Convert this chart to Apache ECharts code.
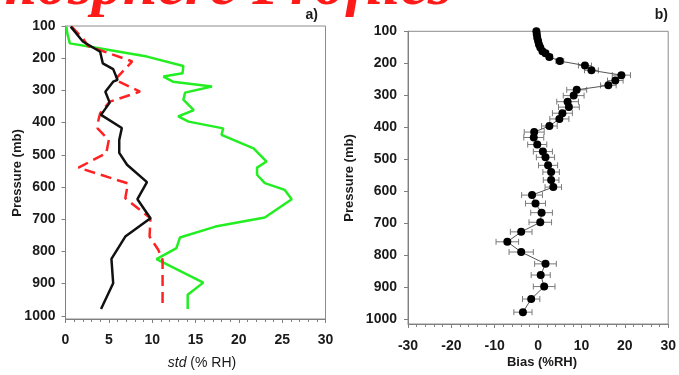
<!DOCTYPE html>
<html>
<head>
<meta charset="utf-8">
<script src="https://cdn.jsdelivr.net/npm/echarts@6/dist/echarts.min.js"></script>
<style>
  html, body { margin: 0; padding: 0; background: #fff; }
  #chart { width: 679px; height: 375px; }
</style>
</head>
<body>
<div id="chart"></div>
<script>
// Tick labels
const pressureTicks = [100, 200, 300, 400, 500, 600, 700, 800, 900, 1000];
const stdTicks = [0, 5, 10, 15, 20, 25, 30];
const biasTicks = [-30, -20, -10, 0, 10, 20, 30];

// Panel a) standard deviation profiles (% RH) against pressure (mb)
const blackP = [102, 148, 180, 216, 234, 267, 273, 304, 338, 376, 417, 454, 494, 531, 585, 638, 697, 754, 823, 899, 979];
const blackStd = [0.6, 2.0, 4.0, 4.3, 5.5, 6.0, 5.5, 4.6, 5.1, 4.1, 6.5, 6.2, 6.2, 7.1, 9.4, 8.3, 9.8, 6.9, 5.3, 5.5, 4.1];

const redP = [102, 138, 162, 210, 267, 304, 335, 371, 392, 418, 454, 495, 540, 589, 635, 697, 754, 795, 826, 979];
const redStd = [0.7, 2.0, 2.6, 7.7, 5.7, 8.6, 5.1, 4.0, 3.8, 3.7, 5.0, 4.7, 1.5, 7.2, 6.9, 9.8, 9.7, 10.7, 11.2, 11.2];

const greenP = [102, 122, 154, 166, 195, 224, 247, 257, 273, 288, 307, 329, 361, 381, 397, 418, 438, 480, 521, 540, 562, 588, 609, 638, 695, 723, 757, 790, 824, 897, 935, 979];
const greenStd = [0.1, 0.2, 0.5, 3.2, 9.4, 13.6, 13.5, 11.3, 12.4, 16.9, 13.8, 13.6, 14.8, 13.0, 14.2, 18.2, 18.0, 21.7, 23.2, 22.1, 22.1, 23.0, 25.3, 26.1, 23.0, 17.3, 13.2, 12.8, 10.5, 15.9, 14.1, 14.1];

// Panel b) bias (% RH) with error half-widths
const biasP = [100, 109, 120, 130, 141, 151, 162, 169, 180, 193, 207, 222, 237, 254, 269, 283, 301, 320, 337, 356, 374, 396, 415, 432, 454, 476, 494, 519, 540, 565, 587, 612, 638, 667, 697, 727, 758, 790, 827, 862, 898, 937, 978];
const biasVal = [-0.4, -0.3, -0.2, 0, 0.2, 0.5, 1.0, 1.7, 2.6, 5.0, 10.8, 12.3, 19.2, 17.8, 16.2, 8.9, 8.2, 6.8, 7.1, 5.6, 4.9, 2.6, -0.9, -1.0, -0.2, 1.1, 1.7, 2.3, 3.0, 3.0, 3.5, -1.4, -0.6, 0.8, 0.5, -3.9, -7.1, -3.9, 1.7, 0.6, 1.4, -1.6, -3.5];
const biasErr = [0.2, 0.2, 0.2, 0.3, 0.3, 0.4, 0.5, 0.6, 0.7, 0.9, 1.5, 1.6, 2.1, 1.8, 1.8, 2.3, 2.4, 2.5, 2.4, 2.3, 2.2, 1.8, 2.3, 2.3, 2.2, 2.2, 2.1, 2.2, 1.9, 1.8, 1.9, 2.4, 2.3, 2.5, 2.6, 2.5, 2.6, 2.8, 2.5, 2.2, 2.5, 2.0, 2.1];

const pairs = (xs, ps) => xs.map((v, i) => [v, ps[i]]);

const AXIS_GRAY = '#808080';
const LABEL_COLOR = '#1a1a1a';
const SANS = '"Liberation Sans", Arial, sans-serif';

function pressureAxis(gridIndex, max, margin) {
  return {
    gridIndex, type: 'value', inverse: true, min: 100, max: max,
    axisLine: { show: true, onZero: false, lineStyle: { color: AXIS_GRAY, width: 1 } },
    axisTick: { show: true, customValues: pressureTicks, length: 4, lineStyle: { color: AXIS_GRAY } },
    axisLabel: {
      customValues: pressureTicks, formatter: v => String(v),
      fontSize: 14, fontWeight: 'bold', color: LABEL_COLOR, fontFamily: SANS, margin: margin
    },
    splitLine: { show: false }
  };
}

function valueAxis(gridIndex, ticks, minorSplit, margin) {
  return {
    gridIndex, type: 'value', min: ticks[0], max: ticks[ticks.length - 1], interval: ticks[1] - ticks[0],
    axisLine: { show: true, onZero: false, lineStyle: { color: AXIS_GRAY, width: 1 } },
    axisTick: { show: true, length: 4, lineStyle: { color: AXIS_GRAY } },
    minorTick: { show: true, splitNumber: minorSplit, length: 3, lineStyle: { color: AXIS_GRAY } },
    axisLabel: { fontSize: 14, fontWeight: 'bold', color: LABEL_COLOR, fontFamily: SANS, margin: margin },
    splitLine: { show: false }
  };
}

const chart = echarts.init(document.getElementById('chart'), null, { renderer: 'canvas' });

chart.setOption({
  animation: false,
  backgroundColor: '#ffffff',
  grid: [
    { left: 65.5, right: 353.5, top: 26, bottom: 56, show: true, borderColor: '#8c8c8c', borderWidth: 1 },
    { left: 408, right: 9, top: 31.3, bottom: 51, show: true, borderColor: '#8c8c8c', borderWidth: 1 }
  ],
  xAxis: [
    valueAxis(0, stdTicks, 5, 14),
    valueAxis(1, biasTicks, 5, 15)
  ],
  yAxis: [
    pressureAxis(0, 1010, 10),
    pressureAxis(1, 1015, 11)
  ],
  series: [
    {
      type: 'line', xAxisIndex: 0, yAxisIndex: 0, data: pairs(greenStd, greenP),
      symbol: 'none', lineStyle: { color: '#22ee22', width: 2.5 }, z: 3
    },
    {
      type: 'line', xAxisIndex: 0, yAxisIndex: 0, data: pairs(redStd, redP),
      symbol: 'none', lineStyle: { color: '#ff2222', width: 2.5, type: [11, 6] }, z: 4
    },
    {
      type: 'line', xAxisIndex: 0, yAxisIndex: 0, data: pairs(blackStd, blackP),
      symbol: 'none', lineStyle: { color: '#111111', width: 2.5 }, z: 5
    },
    {
      type: 'custom', xAxisIndex: 1, yAxisIndex: 1,
      data: biasVal.map((v, i) => [v, biasP[i], biasErr[i]]),
      encode: { x: 0, y: 1 },
      z: 2,
      renderItem: function (params, api) {
        const v = api.value(0), p = api.value(1), e = api.value(2);
        const lo = api.coord([v - e, p]);
        const hi = api.coord([v + e, p]);
        const cap = 3;
        const st = { stroke: '#7a7a7a', lineWidth: 1 };
        return {
          type: 'group',
          children: [
            { type: 'line', shape: { x1: lo[0], y1: lo[1], x2: hi[0], y2: hi[1] }, style: st },
            { type: 'line', shape: { x1: lo[0], y1: lo[1] - cap, x2: lo[0], y2: lo[1] + cap }, style: st },
            { type: 'line', shape: { x1: hi[0], y1: hi[1] - cap, x2: hi[0], y2: hi[1] + cap }, style: st }
          ]
        };
      }
    },
    {
      type: 'line', xAxisIndex: 1, yAxisIndex: 1, data: pairs(biasVal, biasP),
      symbol: 'circle', symbolSize: 8, z: 5,
      itemStyle: { color: '#000000' },
      lineStyle: { color: '#555555', width: 1 }
    }
  ],
  graphic: [
    {
      type: 'text', x: 452, y: -12, z: 10,
      style: {
        text: 'Atmosphere Profiles', align: 'right', verticalAlign: 'middle',
        fontSize: 62, fontWeight: 'bold', fontStyle: 'italic',
        fontFamily: '"Liberation Serif", "Times New Roman", serif', fill: '#ff1a1a'
      }
    },
    {
      type: 'text', x: 318, y: 15,
      style: { text: 'a)', align: 'right', verticalAlign: 'middle', fontSize: 14, fontWeight: 'bold', fontFamily: SANS, fill: LABEL_COLOR }
    },
    {
      type: 'text', x: 668, y: 15,
      style: { text: 'b)', align: 'right', verticalAlign: 'middle', fontSize: 14, fontWeight: 'bold', fontFamily: SANS, fill: LABEL_COLOR }
    },
    {
      type: 'text', x: 17.5, y: 173, rotation: Math.PI / 2,
      style: { text: 'Pressure (mb)', align: 'center', verticalAlign: 'middle', fontSize: 13, fontWeight: 'bold', fontFamily: SANS, fill: LABEL_COLOR }
    },
    {
      type: 'text', x: 349.5, y: 178, rotation: Math.PI / 2,
      style: { text: 'Pressure (mb)', align: 'center', verticalAlign: 'middle', fontSize: 13, fontWeight: 'bold', fontFamily: SANS, fill: LABEL_COLOR }
    },
    {
      type: 'text', x: 202, y: 363,
      style: {
        text: '{i|std} (% RH)', align: 'center', verticalAlign: 'middle',
        fontSize: 14, fontFamily: SANS, fill: LABEL_COLOR,
        rich: { i: { fontStyle: 'italic', fontSize: 14, fontFamily: SANS, fill: LABEL_COLOR } }
      }
    },
    {
      type: 'text', x: 542, y: 362,
      style: { text: 'Bias (%RH)', align: 'center', verticalAlign: 'middle', fontSize: 13, fontWeight: 'bold', fontFamily: SANS, fill: LABEL_COLOR }
    }
  ]
});
</script>
</body>
</html>
